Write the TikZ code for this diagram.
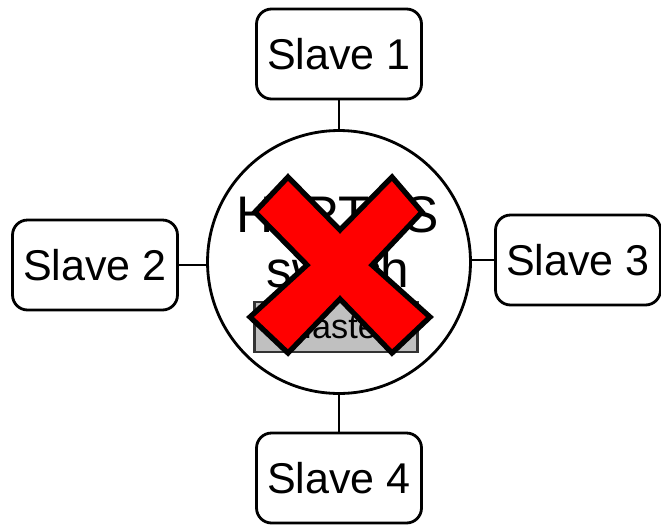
\documentclass[tikz,border=0pt]{standalone}
\usepackage{fontspec}
\setmainfont{Liberation Sans}
\usetikzlibrary{positioning}

\definecolor{crossred}{RGB}{255,0,0}
\definecolor{mastergray}{RGB}{192,192,192}

\begin{document}
\begin{tikzpicture}[x=0.02cm, y=-0.02cm]
  \tikzstyle{slave}=[rectangle, draw, rounded corners=0.3cm, line width=1.6pt,
                     minimum width=3.3cm, minimum height=1.8cm, inner sep=0pt,
                     font=\fontsize{24.5}{28}\selectfont]
  \tikzstyle{link}=[line width=1.6pt]
  \tikzstyle{cross}=[fill=crossred, draw=black, line width=3pt, line join=miter]
  \useasboundingbox (0,0) rectangle (661,524);

  % Switch
  \node[circle, draw, line width=1.6pt, minimum size=5.26cm, inner sep=0pt] (sw) at (339,262) {};
  \node[anchor=base, font=\fontsize{29.3}{33}\selectfont] (swname) at (338,232) {HaRTES};
  \node[anchor=base, font=\fontsize{29.3}{33}\selectfont] (swtype) at (338,287) {switch};
  \node[draw=black!80, fill=mastergray, line width=1.2pt, minimum width=3.26cm,
        minimum height=1cm, inner sep=0pt, font=\fontsize{19.5}{22}\selectfont] (master) at (336,327) {Master};

  % Slaves
  \node[slave] (s1) at (339,54) {Slave 1};
  \node[slave] (s2) at (95,265) {Slave 2};
  \node[slave] (s3) at (578,260) {Slave 3};
  \node[slave] (s4) at (339,478) {Slave 4};

  % Links
  \draw[link] (s1.south) -- (sw.north);
  \draw[link] (s4.north) -- (sw.south);
  \draw[link] (s2.east) -- (s2.east -| sw.west);
  \draw[link] (s3.west) -- (s3.west -| sw.east);

  % Red cross
  \draw[cross] (288,177) -- (340,230) -- (392,177) -- (422,212) -- (372,265)
    -- (430,317) -- (392,353) -- (340,299) -- (288,353) -- (250,317)
    -- (307,265) -- (255,212) -- cycle;
\end{tikzpicture}
\end{document}
